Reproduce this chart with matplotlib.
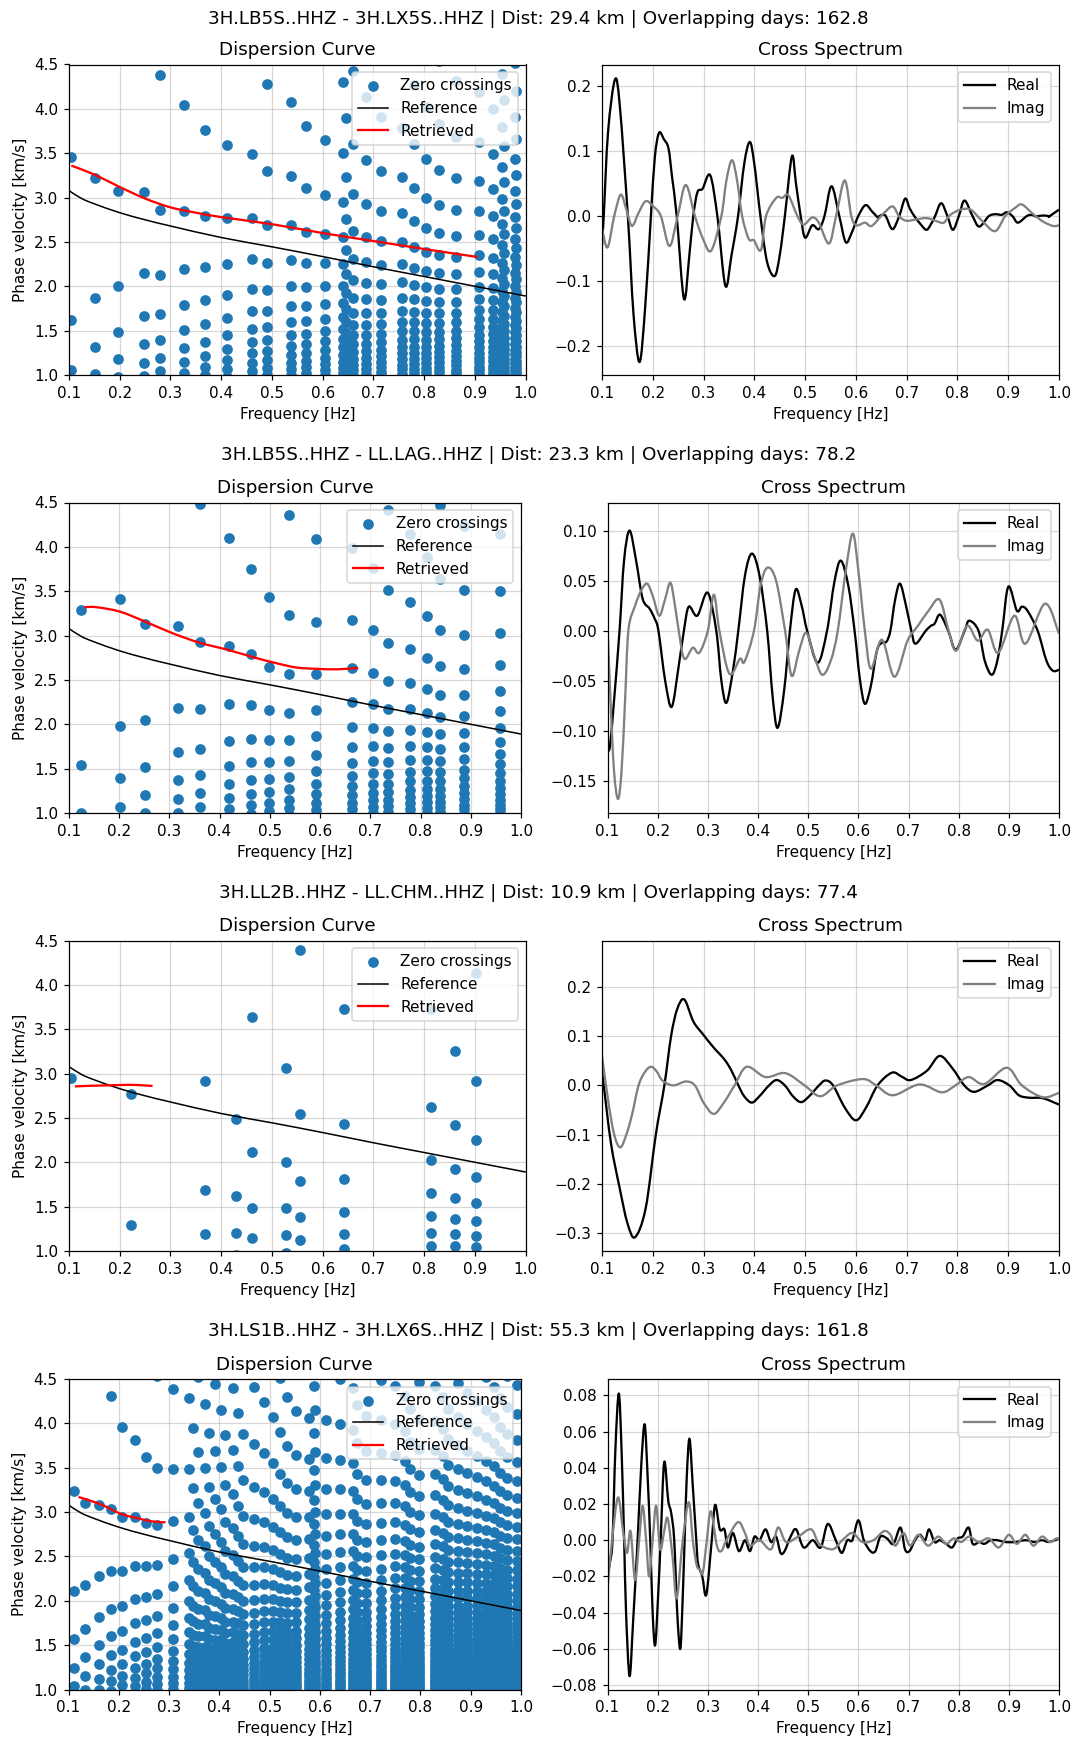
import numpy as np
import matplotlib.pyplot as plt
from matplotlib.path import Path
from matplotlib.patches import PathPatch
from matplotlib.lines import Line2D

# reference dispersion curve (same model in every pair)
ref_freq = [0.1, 0.125, 0.15, 0.2, 0.25, 0.3, 0.4, 0.5, 0.6, 0.7, 0.8, 0.9, 1.0]
ref_vel = [3.08, 2.99, 2.93, 2.83, 2.75, 2.68, 2.55, 2.445, 2.335, 2.22, 2.11, 2.0, 1.89]

# ---------------- pair 1 ----------------
title1 = "3H.LB5S..HHZ - 3H.LX5S..HHZ | Dist: 29.4 km | Overlapping days: 162.8"
dist1 = 29.4
# frequencies where the real part crosses zero (first one rising)
cross1 = [0.1034, 0.1509, 0.1963, 0.2472, 0.2797, 0.3272, 0.3679, 0.412, 0.4601,
          0.4913, 0.5381, 0.5673, 0.6046, 0.6406, 0.646, 0.6589, 0.6853, 0.7152,
          0.7559, 0.7803, 0.8027, 0.8298, 0.8617, 0.9085, 0.9363, 0.953, 0.958,
          0.9797, 0.9815]
rise1 = True
ret_f1 = [0.105, 0.15, 0.2, 0.25, 0.3, 0.35, 0.4, 0.5, 0.6, 0.7, 0.8, 0.905]
ret_v1 = [3.36, 3.26, 3.12, 2.99, 2.89, 2.83, 2.78, 2.70, 2.60, 2.51, 2.42, 2.33]
re_f1 = [0.1, 0.1034, 0.112, 0.1256, 0.135, 0.1509, 0.162, 0.174, 0.185, 0.1963,
         0.204, 0.2123, 0.222, 0.231, 0.238, 0.2472, 0.2614, 0.272, 0.2797, 0.288,
         0.298, 0.313, 0.3272, 0.343, 0.355, 0.3679, 0.38, 0.391, 0.40, 0.412,
         0.425, 0.44, 0.45, 0.4601, 0.474, 0.482, 0.4913, 0.50, 0.514, 0.527,
         0.5381, 0.552, 0.5673, 0.58, 0.592, 0.6046, 0.619, 0.632, 0.6406, 0.643,
         0.646, 0.652, 0.6589, 0.672, 0.6853, 0.697, 0.706, 0.7152, 0.727, 0.739,
         0.748, 0.7559, 0.768, 0.7803, 0.791, 0.8027, 0.814, 0.8298, 0.843, 0.8617,
         0.875, 0.887, 0.897, 0.9085, 0.919, 0.9363, 0.945, 0.953, 0.955, 0.958,
         0.97, 0.9797, 0.9806, 0.9815, 1.0]
re_v1 = [-0.045, 0.0, 0.13, 0.21, 0.17, 0.0, -0.15, -0.224, -0.14, 0.0,
         0.09, 0.128, 0.118, 0.104, 0.06, 0.0, -0.127, -0.06, 0.0, 0.037,
         0.042, 0.063, 0.0, -0.107, -0.06, 0.0, 0.08, 0.114, 0.08, 0.0,
         -0.07, -0.092, -0.06, 0.0, 0.092, 0.05, 0.0, -0.033, -0.014, -0.02,
         0.0, 0.046, 0.0, -0.04, -0.025, 0.0, 0.017, 0.007, 0.0, -0.002,
         0.0, 0.002, 0.0, -0.02, 0.0, 0.027, 0.012, 0.0, -0.012, -0.021,
         -0.012, 0.0, 0.02, 0.0, -0.021, 0.0, 0.024, 0.0, -0.016, 0.0,
         0.003, 0.002, 0.006, 0.0, -0.01, 0.0, 0.002, 0.0, -0.001, 0.0,
         0.001, 0.0, -0.0005, 0.0, 0.01]
im_f1 = [0.1, 0.111, 0.124, 0.137, 0.148, 0.159, 0.172, 0.186, 0.201, 0.216,
         0.233, 0.249, 0.265, 0.283, 0.299, 0.315, 0.335, 0.345, 0.356, 0.366,
         0.376, 0.389, 0.399, 0.413, 0.423, 0.443, 0.455, 0.467, 0.485, 0.497,
         0.514, 0.527, 0.547, 0.561, 0.578, 0.591, 0.601, 0.618, 0.631, 0.652,
         0.672, 0.685, 0.699, 0.719, 0.74, 0.76, 0.773, 0.786, 0.806, 0.826,
         0.847, 0.874, 0.894, 0.914, 0.927, 0.948, 0.968, 0.988, 1.0]
im_v1 = [-0.019, -0.048, 0.0, 0.033, 0.01, -0.015, 0.005, 0.023, 0.015, 0.0,
         -0.046, 0.0, 0.048, 0.0, -0.035, -0.053, 0.0, 0.055, 0.086, 0.055,
         0.0, -0.035, -0.037, -0.052, 0.0, 0.028, 0.028, 0.032, 0.0, -0.013,
         -0.002, -0.01, -0.042, 0.0, 0.055, 0.0, -0.014, -0.01, -0.015, 0.002,
         0.015, 0.0, -0.007, -0.005, -0.003, -0.008, -0.01, 0.002, 0.01, 0.01,
         -0.006, -0.023, 0.0, 0.013, 0.018, 0.004, -0.008, -0.015, -0.014]
ylim1 = (-0.244, 0.233)

# ---------------- pair 2 ----------------
title2 = "3H.LB5S..HHZ - LL.LAG..HHZ | Dist: 23.3 km | Overlapping days: 78.2"
dist2 = 23.3
cross2 = [0.124, 0.2015, 0.2523, 0.3168, 0.3607, 0.4183, 0.4636, 0.4979, 0.5376,
          0.5925, 0.6639, 0.7057, 0.7345, 0.7791, 0.812, 0.8395, 0.8868, 0.9574]
rise2 = True
ret_f2 = [0.131, 0.155, 0.2015, 0.251, 0.305, 0.36, 0.416, 0.471, 0.512, 0.553,
          0.594, 0.635, 0.676]
ret_v2 = [3.32, 3.32, 3.27, 3.16, 3.03, 2.92, 2.84, 2.75, 2.69, 2.64,
          2.625, 2.62, 2.635]
re_f2 = [0.1, 0.105, 0.113, 0.124, 0.133, 0.144, 0.157, 0.170, 0.184, 0.194,
         0.2015, 0.215, 0.228, 0.242, 0.2523, 0.262, 0.279, 0.2996, 0.3168, 0.327,
         0.337, 0.35, 0.3607, 0.374, 0.388, 0.403, 0.4183, 0.429, 0.439, 0.452,
         0.4636, 0.475, 0.487, 0.4979, 0.519, 0.5376, 0.552, 0.565, 0.58, 0.5925,
         0.603, 0.613, 0.625, 0.637, 0.647, 0.656, 0.6639, 0.673, 0.683, 0.695,
         0.7057, 0.714, 0.7345, 0.745, 0.752, 0.763, 0.7791, 0.794, 0.812, 0.821,
         0.8395, 0.852, 0.866, 0.877, 0.8868, 0.899, 0.916, 0.926, 0.937, 0.9574,
         0.975, 0.988, 1.0]
re_v2 = [-0.119, -0.115, -0.07, 0.0, 0.07, 0.10, 0.07, 0.032, 0.022, 0.012,
         0.0, -0.05, -0.076, -0.035, 0.0, 0.024, 0.015, 0.038, 0.0, -0.05,
         -0.072, -0.04, 0.0, 0.055, 0.077, 0.055, 0.0, -0.065, -0.097, -0.06,
         0.0, 0.041, 0.025, 0.0, -0.032, 0.0, 0.048, 0.07, 0.045, 0.0,
         -0.048, -0.073, -0.055, -0.02, -0.012, -0.011, 0.0, 0.03, 0.047, 0.025,
         0.0, -0.013, 0.0, 0.005, 0.007, 0.016, 0.0, -0.019, 0.0, 0.01,
         0.0, -0.03, -0.044, -0.03, 0.0, 0.044, 0.02, 0.024, 0.02, 0.0,
         -0.03, -0.04, -0.039]
im_f2 = [0.1, 0.106, 0.113, 0.121, 0.128, 0.135, 0.1416, 0.155, 0.167, 0.179,
         0.19, 0.203, 0.214, 0.225, 0.233, 0.242, 0.253, 0.27, 0.283, 0.30,
         0.312, 0.323, 0.343, 0.364, 0.373, 0.392, 0.405, 0.419, 0.436, 0.454,
         0.467, 0.482, 0.496, 0.512, 0.528, 0.545, 0.559, 0.575, 0.589, 0.60,
         0.613, 0.625, 0.647, 0.672, 0.698, 0.719, 0.74, 0.762, 0.78, 0.795,
         0.817, 0.838, 0.858, 0.879, 0.911, 0.933, 0.972, 1.0]
im_v2 = [0.005, -0.07, -0.14, -0.168, -0.14, -0.07, 0.0, 0.025, 0.04, 0.047,
         0.035, 0.015, 0.03, 0.048, 0.03, 0.0, -0.028, -0.017, -0.022, 0.0,
         0.036, 0.0, -0.043, -0.028, -0.031, 0.0, 0.045, 0.063, 0.05, 0.0,
         -0.045, -0.02, -0.002, -0.025, -0.044, -0.03, 0.0, 0.06, 0.097, 0.06,
         0.0, -0.038, -0.009, -0.046, -0.01, 0.005, 0.02, 0.031, 0.0, -0.02,
         0.005, -0.01, 0.001, -0.022, 0.015, -0.013, 0.027, -0.003]
ylim2 = (-0.182, 0.128)

# ---------------- pair 3 ----------------
title3 = "3H.LL2B..HHZ - LL.CHM..HHZ | Dist: 10.9 km | Overlapping days: 77.4"
dist3 = 10.9
cross3 = [0.1034, 0.2228, 0.3686, 0.4289, 0.4601, 0.5273, 0.5551, 0.6426,
          0.8135, 0.8596, 0.9024]
rise3 = False
ret_f3 = [0.112, 0.14, 0.168, 0.195, 0.222, 0.245, 0.265]
ret_v3 = [2.855, 2.862, 2.866, 2.87, 2.873, 2.868, 2.86]
re_f3 = [0.1, 0.1034, 0.118, 0.135, 0.150, 0.165, 0.186, 0.206, 0.2228, 0.236,
         0.248, 0.262, 0.28, 0.299, 0.32, 0.341, 0.355, 0.3686, 0.38, 0.395,
         0.41, 0.4289, 0.444, 0.4601, 0.476, 0.492, 0.508, 0.5273, 0.54, 0.5551,
         0.578, 0.6, 0.62, 0.6426, 0.671, 0.69, 0.708, 0.74, 0.765, 0.79,
         0.8135, 0.833, 0.8596, 0.879, 0.9024, 0.921, 0.941, 0.968, 1.0]
re_v3 = [0.03, 0.0, -0.12, -0.21, -0.28, -0.309, -0.25, -0.1, 0.0, 0.1,
         0.155, 0.175, 0.13, 0.104, 0.077, 0.053, 0.03, 0.0, -0.022, -0.035,
         -0.022, 0.0, 0.011, 0.0, -0.022, -0.034, -0.022, 0.0, 0.01, 0.0,
         -0.045, -0.071, -0.045, 0.0, 0.026, 0.018, 0.011, 0.03, 0.06, 0.035,
         0.0, -0.013, 0.0, 0.011, 0.0, -0.02, -0.025, -0.026, -0.039]
im_f3 = [0.1, 0.112, 0.124, 0.136, 0.148, 0.159, 0.172, 0.185, 0.197, 0.208,
         0.219, 0.24, 0.265, 0.283, 0.30, 0.32, 0.34, 0.361, 0.385, 0.422,
         0.461, 0.499, 0.53, 0.563, 0.614, 0.64, 0.673, 0.725, 0.769, 0.796,
         0.822, 0.853, 0.897, 0.927, 0.968, 1.0]
im_v3 = [0.06, -0.03, -0.1, -0.126, -0.1, -0.06, 0.0, 0.028, 0.038, 0.028,
         0.01, 0.0, 0.008, 0.0, -0.035, -0.058, -0.035, 0.0, 0.038, 0.017,
         0.025, 0.0, -0.022, 0.0, 0.013, 0.0, -0.02, 0.002, -0.014, 0.0,
         0.017, 0.003, 0.036, 0.0, -0.024, -0.015]
ylim3 = (-0.337, 0.295)

# ---------------- pair 4 ----------------
title4 = "3H.LS1B..HHZ - 3H.LX6S..HHZ | Dist: 55.3 km | Overlapping days: 161.8"
dist4 = 55.3
cross4 = [0.110, 0.1332, 0.160, 0.1852, 0.206, 0.233, 0.2537, 0.277, 0.3078,
          0.3389, 0.3476, 0.3575, 0.3721, 0.3787, 0.392, 0.404, 0.4112, 0.4271,
          0.4377, 0.4477, 0.4682, 0.4888, 0.506, 0.5199, 0.5338, 0.5525, 0.5783,
          0.5889, 0.5905, 0.6121, 0.6406, 0.6664, 0.6747, 0.692, 0.721, 0.75,
          0.769, 0.78, 0.797, 0.829, 0.845, 0.855, 0.875, 0.893, 0.912, 0.93,
          0.947, 0.958, 0.973, 0.992]
rise4 = True
ret_f4 = [0.12, 0.163, 0.204, 0.238, 0.266, 0.293]
ret_v4 = [3.17, 3.09, 2.98, 2.93, 2.895, 2.885]
re_f4 = [0.1, 0.105, 0.110, 0.1157, 0.1225, 0.128, 0.1332, 0.137, 0.144, 0.151,
         0.160, 0.167, 0.174, 0.180, 0.1852, 0.19, 0.195, 0.201, 0.206, 0.213,
         0.221, 0.227, 0.233, 0.239, 0.245, 0.2495, 0.2537, 0.258, 0.2635, 0.27,
         0.277, 0.2805, 0.289, 0.297, 0.3078, 0.3146, 0.324, 0.333, 0.340, 0.350,
         0.362, 0.374, 0.384, 0.393, 0.403, 0.415, 0.426, 0.436, 0.445, 0.453,
         0.465, 0.476, 0.491, 0.509, 0.525, 0.539, 0.555, 0.567, 0.578, 0.588,
         0.6, 0.611, 0.624, 0.634, 0.644, 0.657, 0.67, 0.684, 0.693, 0.702,
         0.713, 0.723, 0.733, 0.741, 0.752, 0.762, 0.775, 0.787, 0.798, 0.808,
         0.82, 0.828, 0.841, 0.851, 0.864, 0.877, 0.893, 0.913, 0.933, 0.952,
         0.966, 0.979, 0.992, 1.0]
re_v4 = [-0.02, -0.012, 0.0, 0.05, 0.081, 0.05, 0.0, -0.04, -0.075, -0.045,
         0.0, 0.04, 0.064, 0.035, 0.0, -0.04, -0.058, -0.03, 0.0, 0.043,
         0.022, 0.015, 0.0, -0.04, -0.06, -0.035, 0.0, 0.035, 0.056, 0.03,
         0.0, -0.013, -0.02, -0.03, 0.0, 0.0195, 0.006, 0.006, -0.004, 0.004,
         -0.006, 0.0, -0.006, 0.002, 0.0, 0.006, -0.001, 0.002, -0.007, -0.006,
         0.002, 0.006, -0.004, 0.0, -0.004, 0.009, 0.0, -0.007, 0.0, 0.0,
         0.011, 0.0, -0.006, -0.006, 0.002, 0.001, -0.002, 0.007, -0.005, -0.006,
         0.0, 0.003, 0.0, 0.006, -0.001, 0.0, -0.002, -0.004, 0.001, 0.002,
         0.007, -0.002, -0.001, -0.002, 0.0, 0.0, -0.001, -0.001, 0.0, -0.001,
         0.0, -0.001, 0.0, 0.001]
im_f4 = [0.1, 0.109, 0.121, 0.131, 0.139, 0.146, 0.155, 0.163, 0.17, 0.177,
         0.183, 0.19, 0.197, 0.205, 0.213, 0.22, 0.23, 0.238, 0.25, 0.262,
         0.27, 0.278, 0.284, 0.29, 0.298, 0.306, 0.318, 0.327, 0.337, 0.36,
         0.374, 0.384, 0.403, 0.426, 0.44, 0.456, 0.48, 0.506, 0.522, 0.549,
         0.568, 0.588, 0.608, 0.63, 0.651, 0.664, 0.674, 0.69, 0.703, 0.72,
         0.739, 0.759, 0.775, 0.79, 0.805, 0.821, 0.84, 0.86, 0.88, 0.9,
         0.916, 0.933, 0.949, 0.966, 0.982, 0.995, 1.0]
im_v4 = [-0.027, 0.0, 0.0236, 0.005, -0.007, 0.005, -0.022, 0.0, 0.019, 0.0,
         -0.02, 0.0, 0.019, -0.005, 0.005, 0.012, -0.01, -0.032, 0.0, 0.021,
         0.0, -0.014, -0.016, -0.018, 0.0, 0.016, -0.003, -0.006, 0.0, 0.01,
         0.004, -0.003, 0.0, -0.005, 0.007, -0.001, 0.002, 0.006, -0.002, -0.005,
         0.0, 0.004, -0.001, 0.0, 0.005, 0.003, -0.003, 0.004, -0.003, 0.003,
         -0.003, 0.002, -0.002, 0.001, -0.001, 0.002, -0.001, 0.001, -0.004, 0.003,
         -0.002, 0.003, -0.003, 0.002, -0.001, 0.001, 0.0]
ylim4 = (-0.0824, 0.089)


def j0_zero(n):
    # McMahon expansion for the n-th zero of J0
    b = (n - 0.25) * np.pi
    return b + 1 / (8 * b) - 124 / (3 * (8 * b) ** 3)


def crossing_points(freqs, dist, rising_first):
    # each zero crossing of Re(rho) gives c = 2*pi*f*r / z_n,
    # even zeros for rising crossings, odd zeros for falling ones
    fx, cy = [], []
    for i, f in enumerate(freqs):
        rising = (i % 2 == 0) == rising_first
        n = 2 if rising else 1
        while True:
            c = 2 * np.pi * f * dist / j0_zero(n)
            if c < 0.9:
                break
            if c < 4.7:
                fx.append(f)
                cy.append(c)
            n += 2
    return fx, cy


def smooth_line(ax, xs, ys, color, lw, zorder=2):
    # draw the read points as one smooth bezier path (catmull-rom handles)
    p = np.column_stack([xs, ys]).astype(float)
    ext = np.vstack([p[0], p, p[-1]])
    verts = [p[0]]
    for i in range(len(p) - 1):
        a, b, c, d = ext[i], ext[i + 1], ext[i + 2], ext[i + 3]
        verts += [b + (c - a) / 6, c - (d - b) / 6, c]
    codes = [Path.MOVETO] + [Path.CURVE4] * (3 * (len(p) - 1))
    ax.add_patch(PathPatch(Path(verts, codes), fill=False, edgecolor=color,
                           lw=lw, zorder=zorder, joinstyle="round"))
    return Line2D([], [], color=color, lw=lw)


pairs = [
    (title1, dist1, cross1, rise1, ret_f1, ret_v1, re_f1, re_v1, im_f1, im_v1, ylim1),
    (title2, dist2, cross2, rise2, ret_f2, ret_v2, re_f2, re_v2, im_f2, im_v2, ylim2),
    (title3, dist3, cross3, rise3, ret_f3, ret_v3, re_f3, re_v3, im_f3, im_v3, ylim3),
    (title4, dist4, cross4, rise4, ret_f4, ret_v4, re_f4, re_v4, im_f4, im_v4, ylim4),
]

# layout in pixels: (row title y, axes top, left axes x0/x1, right axes x0/x1)
W, H, DPI = 1077, 1740, 110
AX_H = 310.5
layout = [
    (19, 64.5, 68.8, 525.8, 602, 1059),
    (455, 502.5, 68.8, 521, 607.5, 1059),
    (893, 940.5, 68.8, 525.8, 602, 1059),
    (1331, 1379, 68.5, 521, 607.5, 1059),
]

fig = plt.figure(figsize=(W / DPI, H / DPI), dpi=DPI)

for (title, dist, cross, rise, ret_f, ret_v, re_f, re_v, im_f, im_v, ylim), \
        (ty, top, lx0, lx1, rx0, rx1) in zip(pairs, layout):
    fig.text(0.5, 1 - ty / H, title, ha="center", va="center", fontsize=12)

    ax1 = fig.add_axes([lx0 / W, 1 - (top + AX_H) / H, (lx1 - lx0) / W, AX_H / H])
    fx, cy = crossing_points(cross, dist, rise)
    h_sc = ax1.scatter(fx, cy, color="C0", s=36, zorder=2)
    h_ref = smooth_line(ax1, ref_freq, ref_vel, "k", 1.0, zorder=3)
    h_ret = smooth_line(ax1, ret_f, ret_v, "red", 1.5, zorder=4)
    ax1.set_xlim(0.1, 1.0)
    ax1.set_ylim(1.0, 4.5)
    ax1.set_xticks(np.arange(0.1, 1.01, 0.1))
    ax1.set_yticks(np.arange(1.0, 4.51, 0.5))
    ax1.set_xlabel("Frequency [Hz]")
    ax1.set_ylabel("Phase velocity [km/s]")
    ax1.set_title("Dispersion Curve", fontsize=12)
    ax1.grid(True, alpha=0.5)
    ax1.legend([h_sc, h_ref, h_ret], ["Zero crossings", "Reference", "Retrieved"],
               loc="upper right")

    ax2 = fig.add_axes([rx0 / W, 1 - (top + AX_H) / H, (rx1 - rx0) / W, AX_H / H])
    h_re = smooth_line(ax2, re_f, re_v, "k", 1.5)
    h_im = smooth_line(ax2, im_f, im_v, "gray", 1.5)
    ax2.set_xlim(0.1, 1.0)
    ax2.set_ylim(*ylim)
    ax2.set_xticks(np.arange(0.1, 1.01, 0.1))
    ax2.set_xlabel("Frequency [Hz]")
    ax2.set_title("Cross Spectrum", fontsize=12)
    ax2.grid(True, alpha=0.5)
    ax2.legend([h_re, h_im], ["Real", "Imag"], loc="upper right")

fig.savefig("out.png", dpi=DPI)
